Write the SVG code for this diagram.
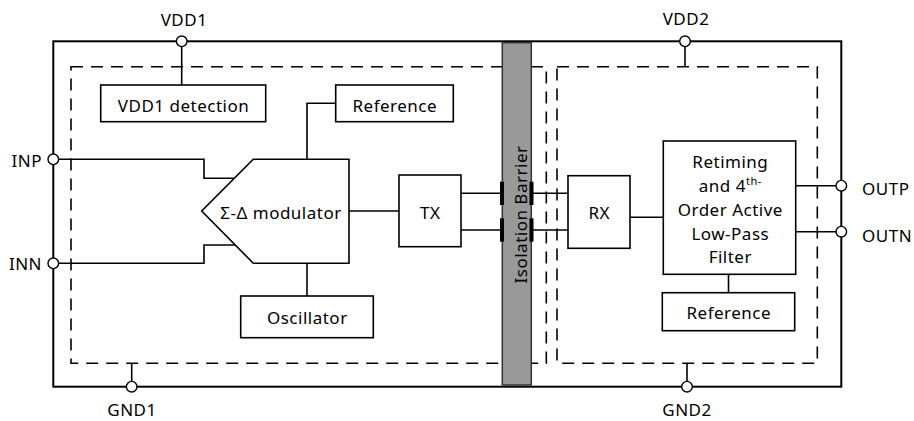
<svg xmlns="http://www.w3.org/2000/svg" width="914" height="421" viewBox="0 0 914 421">
<style>
text{font-family:"Noto Sans","Open Sans","Liberation Sans",sans-serif;font-size:17px;letter-spacing:0.5px;fill:#000}
.c{text-anchor:middle}
.e{text-anchor:end}
.box{fill:#fff;stroke:#000;stroke-width:1.6}
.w{fill:none;stroke:#000;stroke-width:1.6}
.outer{fill:none;stroke:#000;stroke-width:2}
.dash{fill:none;stroke:#000;stroke-width:1.6;stroke-dasharray:12 8}
.pin{fill:#fff;stroke:#000;stroke-width:1.4}
.mark{stroke:#000;stroke-width:4;fill:none}
</style>
<g id="outer">
<rect class="outer" x="53.3" y="41.3" width="788" height="345.4"/>
<rect class="dash" x="71" y="66.7" width="475.3" height="296.6"/>
<rect class="dash" x="557" y="66.7" width="260.3" height="296.6"/>
</g>
<g id="connectors">
<polyline class="w" points="181.7,41.3 181.7,85"/>
<polyline class="w" points="335.7,103.3 307,103.3 307,159.3"/>
<polyline class="w" points="53.3,159.3 204,159.3 204,178.3 234.3,178.3"/>
<polyline class="w" points="53.3,263.3 204,263.3 204,245 235.3,245"/>
<polyline class="w" points="349,211 399,211"/>
<polyline class="w" points="307,263.3 307,296"/>
<polyline class="w" points="461,193.3 502,193.3"/>
<polyline class="w" points="461,230 502,230"/>
<polyline class="w" points="531,193.3 568,193.3"/>
<polyline class="w" points="531,230 568,230"/>
<polyline class="w" points="630,217.3 663.3,217.3"/>
<polyline class="w" points="795.7,185.7 841.3,185.7"/>
<polyline class="w" points="795.7,231.7 841.3,231.7"/>
<polyline class="w" points="728.5,274.3 728.5,292.7"/>
<polyline class="w" points="685,41.3 685,66.7"/>
<polyline class="w" points="131.7,363.3 131.7,386.7"/>
<polyline class="w" points="687,363.3 687,386.7"/>
</g>
<g id="barrier">
<rect x="502.3" y="42.7" width="29" height="342.3" fill="#999" stroke="#333" stroke-width="1.5"/>
<text transform="translate(526.5,214.5) rotate(-90)" class="c">Isolation Barrier</text>
<line class="mark" x1="502" y1="181.7" x2="502" y2="205"/>
<line class="mark" x1="531.5" y1="181.7" x2="531.5" y2="205"/>
<line class="mark" x1="502" y1="218.3" x2="502" y2="241.7"/>
<line class="mark" x1="531.5" y1="218.3" x2="531.5" y2="241.7"/>
</g>
<g id="vdd1-detection">
<rect class="box" x="100.7" y="85" width="165" height="36.7"/>
<text class="c" x="183.5" y="111.5">VDD1 detection</text>
</g>
<g id="reference1">
<rect class="box" x="335.7" y="85" width="117.6" height="36.7"/>
<text class="c" x="394.8" y="111.5">Reference</text>
</g>
<g id="modulator">
<polygon class="box" points="253.3,159.3 349,159.3 349,263.3 253.3,263.3 201.7,211"/>
<text class="c" x="281" y="218.5">Σ-Δ modulator</text>
</g>
<g id="oscillator">
<rect class="box" x="240.7" y="296" width="132.6" height="41.7"/>
<text class="c" x="307.3" y="323.5">Oscillator</text>
</g>
<g id="tx">
<rect class="box" x="399" y="175" width="62" height="71.7"/>
<text class="c" x="430.3" y="218.5">TX</text>
</g>
<g id="rx">
<rect class="box" x="568" y="175.7" width="62" height="72.6"/>
<text class="c" x="599.3" y="218.5">RX</text>
</g>
<g id="filter">
<rect class="box" x="663.3" y="141" width="132.4" height="133.3"/>
<text class="c" x="730.3" y="168">Retiming</text>
<text class="c" x="730.3" y="191.5">and 4<tspan font-size="11" dy="-7">th-</tspan></text>
<text class="c" x="730.3" y="215.5">Order Active</text>
<text class="c" x="730.3" y="239.5">Low-Pass</text>
<text class="c" x="730.3" y="263">Filter</text>
</g>
<g id="reference2">
<rect class="box" x="662.3" y="292.7" width="132.4" height="38"/>
<text class="c" x="728.8" y="319.3">Reference</text>
</g>
<g id="pins">
<circle class="pin" cx="181.7" cy="41.3" r="5.3"/>
<circle class="pin" cx="685" cy="41.3" r="5.3"/>
<circle class="pin" cx="53.3" cy="159.3" r="5.3"/>
<circle class="pin" cx="53.3" cy="263.3" r="5.3"/>
<circle class="pin" cx="131.7" cy="386.7" r="5.3"/>
<circle class="pin" cx="687" cy="386.7" r="5.3"/>
<circle class="pin" cx="841.3" cy="185.7" r="5.3"/>
<circle class="pin" cx="841.3" cy="231.7" r="5.3"/>
<text class="c" x="184" y="26">VDD1</text>
<text class="c" x="686" y="25">VDD2</text>
<text class="e" x="42" y="166.5">INP</text>
<text class="e" x="42" y="269.5">INN</text>
<text class="c" x="132" y="416">GND1</text>
<text class="c" x="687" y="416">GND2</text>
<text x="862" y="195">OUTP</text>
<text x="862" y="241.5">OUTN</text>
</g>
</svg>
